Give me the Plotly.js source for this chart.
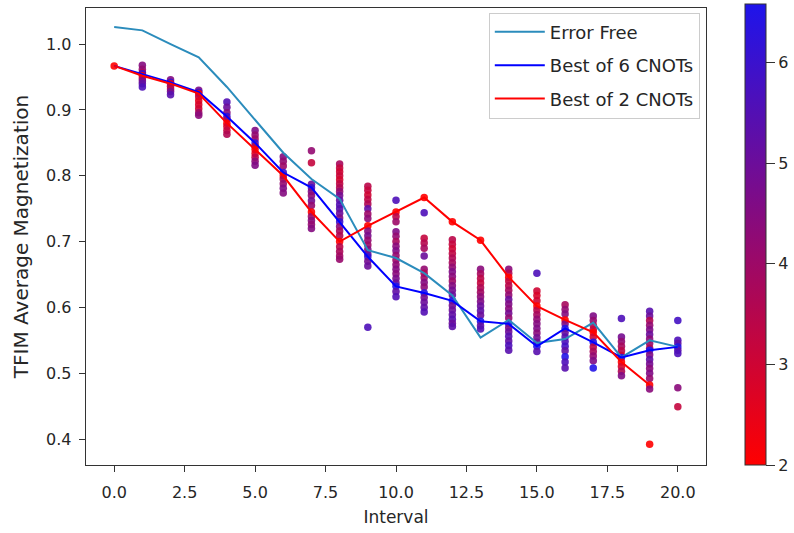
<!DOCTYPE html>
<html><head><meta charset="utf-8">
<script src="https://cdn.plot.ly/plotly-3.0.1.min.js"></script>
<style>html,body{margin:0;padding:0;background:#fff}#chart{width:794px;height:533px}</style>
</head><body><div id="chart"></div>
<script>
// ---- data ----
const intervals = [0,1,2,3,4,5,6,7,8,9,10,11,12,13,14,15,16,17,18,19,20];
const errorFree = [1.026,1.021,1.000,0.980,0.935,0.885,0.835,0.795,0.765,0.687,0.675,0.652,0.618,0.554,0.581,0.546,0.552,0.577,0.524,0.550,0.540];
const best6 = [0.967,0.955,0.942,0.927,0.890,0.850,0.805,0.782,0.730,0.677,0.632,0.622,0.610,0.579,0.575,0.541,0.568,0.547,0.524,0.535,0.540];
const best2Intervals = [0,1,2,3,4,5,6,7,8,9,10,11,12,13,14,15,16,17,18,19];
const best2 = [0.967,0.952,0.940,0.925,0.880,0.840,0.800,0.745,0.700,0.724,0.745,0.767,0.730,0.702,0.646,0.602,0.581,0.562,0.517,0.482];

// individual circuit results per interval (magnetization) and their colour value
const circuitY = [
  [0.967],
  [0.968,0.962,0.957,0.955,0.952,0.948,0.944,0.940,0.935],
  [0.946,0.942,0.940,0.936,0.932,0.928,0.923],
  [0.930,0.927,0.925,0.920,0.914,0.908,0.902,0.896,0.892],
  [0.912,0.904,0.896,0.890,0.886,0.880,0.875,0.869,0.863],
  [0.869,0.862,0.856,0.850,0.845,0.840,0.834,0.828,0.822,0.816],
  [0.829,0.822,0.815,0.805,0.800,0.795,0.788,0.781,0.774],
  [0.838,0.820,0.787,0.782,0.776,0.770,0.762,0.755,0.745,0.738,0.732,0.726,0.720],
  [0.818,0.812,0.806,0.800,0.794,0.788,0.782,0.776,0.770,0.763,0.756,0.750,0.743,0.736,0.730,0.723,0.716,0.709,0.700,0.692,0.685,0.678,0.673],
  [0.784,0.778,0.771,0.764,0.757,0.750,0.742,0.735,0.724,0.716,0.709,0.702,0.695,0.688,0.681,0.677,0.670,0.663,0.570],
  [0.763,0.745,0.738,0.730,0.715,0.708,0.700,0.693,0.686,0.679,0.672,0.665,0.658,0.651,0.644,0.637,0.632,0.624,0.616],
  [0.767,0.744,0.705,0.698,0.690,0.678,0.658,0.652,0.645,0.638,0.631,0.622,0.615,0.608,0.600,0.593],
  [0.730,0.703,0.696,0.689,0.682,0.675,0.668,0.661,0.654,0.647,0.640,0.633,0.626,0.619,0.610,0.603,0.596,0.589,0.582,0.576,0.571],
  [0.702,0.658,0.651,0.644,0.637,0.630,0.623,0.616,0.609,0.602,0.595,0.588,0.579,0.572,0.567],
  [0.658,0.652,0.646,0.640,0.633,0.626,0.619,0.612,0.605,0.598,0.591,0.584,0.575,0.569,0.563,0.556,0.549,0.542,0.535],
  [0.652,0.625,0.618,0.610,0.602,0.596,0.589,0.582,0.575,0.568,0.561,0.554,0.547,0.541,0.533],
  [0.604,0.597,0.590,0.581,0.575,0.568,0.562,0.555,0.548,0.541,0.534,0.525,0.517,0.508],
  [0.587,0.580,0.573,0.566,0.562,0.555,0.547,0.540,0.533,0.526,0.519,0.508],
  [0.583,0.555,0.548,0.541,0.534,0.527,0.524,0.517,0.510,0.503,0.496],
  [0.594,0.587,0.580,0.573,0.566,0.559,0.552,0.545,0.538,0.535,0.528,0.521,0.514,0.507,0.500,0.492,0.482,0.476,0.392],
  [0.580,0.550,0.545,0.540,0.535,0.530,0.478,0.449]
];
const circuitC = [
  [2],
  [4.5,4.2,3.8,6.0,2,3.5,4.8,5.2,5.6],
  [4.5,6.0,2,4.0,3.5,4.8,5.4],
  [4.6,6.0,2,3.2,2.6,2.8,3.0,4.0,4.4],
  [5.5,5.0,4.5,6.0,4.0,2,2.8,3.2,3.6],
  [4.6,4.2,4.0,6.0,3.5,2,2.6,3.4,4.3,4.6],
  [4.5,4.2,4.0,6.0,2,3.8,4.2,4.6,4.5],
  [4.2,3.2,5.0,6.0,4.6,4.3,4.8,4.2,2,4.0,4.4,4.2,4.5],
  [3.8,3.2,3.0,3.1,2.9,3.3,3.6,4.2,4.8,5.2,5.5,5.4,5.0,4.6,6.0,4.3,3.8,3.6,2,3.4,3.7,3.9,4.1],
  [3.4,3.2,3.0,3.3,3.6,5.2,4.0,4.3,2,4.5,4.7,4.2,4.0,4.6,5.0,6.0,4.8,5.0,5.6],
  [5.6,2,3.4,4.0,4.6,4.2,3.8,4.4,4.6,4.2,4.0,4.3,4.5,4.4,4.7,5.0,6.5,5.2,5.5],
  [2,5.6,3.2,3.5,3.8,5.0,4.2,3.6,4.0,4.5,4.3,6.5,4.8,5.0,5.2,5.5],
  [2,3.4,3.2,3.0,3.3,3.6,3.8,4.2,4.6,4.4,4.0,4.5,4.8,5.0,6.5,4.8,5.0,5.2,5.4,5.0,5.3],
  [2,4.4,3.8,3.4,3.2,3.6,3.9,4.3,4.6,5.0,5.2,5.0,6.5,5.2,5.5],
  [4.4,3.6,2,3.2,3.4,3.8,4.2,5.0,4.6,4.4,4.8,4.2,6.5,4.6,5.0,5.4,5.2,5.6,5.4],
  [5.6,3.0,2.8,3.0,2,3.4,3.8,4.2,4.5,4.6,4.4,4.8,5.0,6.5,5.4],
  [3.8,4.2,4.5,2,4.6,6.5,5.0,5.4,5.6,5.8,5.2,6.5,5.6,5.4],
  [4.6,4.2,3.6,3.2,2,3.0,6.5,3.4,3.8,4.2,4.6,6.5],
  [5.6,4.8,4.2,3.8,3.4,3.0,6.5,2,2.8,3.6,4.6],
  [5.4,5.0,3.6,4.2,4.6,5.0,4.4,4.0,3.6,6.5,4.6,5.2,4.8,4.4,4.6,4.2,2,4.4,2],
  [5.8,5.6,5.2,6.5,5.4,5.6,4.4,3.2]
];
const colorTicks = [2,3,4,5,6];
const xTicks = [0,2.5,5,7.5,10,12.5,15,17.5,20];
const yTicks = [0.4,0.5,0.6,0.7,0.8,0.9,1.0];

// ---- build traces ----
const sx = [], sy = [], sc = [];
circuitY.forEach((col, i) => {
  col.forEach((v, j) => { sx.push(intervals[i]); sy.push(v); sc.push(circuitC[i][j]); });
});

const FONT = 'DejaVu Sans, sans-serif';
const txtColor = '#262626';

const traces = [
  {
    x: sx, y: sy, type: 'scatter', mode: 'markers', showlegend: false, hoverinfo: 'skip',
    marker: {
      size: 7.5, color: sc, cmin: 2, cmax: 6.58, opacity: 0.9,
      colorscale: [[0, 'rgb(255,0,0)'], [1, 'rgb(30,20,235)']],
      line: {width: 0},
      colorbar: {
        x: 1.063, xanchor: 'left', xpad: 0, ypad: 0,
        y: 0.504, yanchor: 'middle', len: 461, lenmode: 'pixels',
        thickness: 21, outlinecolor: '#333', outlinewidth: 1,
        tickvals: colorTicks, ticks: 'outside', ticklen: 9, tickcolor: '#333',
        tickfont: {family: FONT, size: 16, color: txtColor}
      }
    }
  },
  {x: intervals, y: errorFree, type: 'scatter', mode: 'lines', name: 'Error Free',
   legendgroup: 'a', line: {color: '#2b8cbc', width: 2}},
  {x: intervals, y: best6, type: 'scatter', mode: 'lines', name: 'Best of 6 CNOTs',
   legendgroup: 'b', line: {color: '#0000ff', width: 2}},
  {x: best2Intervals, y: best2, type: 'scatter', mode: 'lines', name: 'Best of 2 CNOTs',
   legendgroup: 'c', line: {color: '#ff0000', width: 2}}
];

const layout = {
  width: 794, height: 533,
  margin: {l: 86, r: 88, t: 4, b: 68},
  paper_bgcolor: '#fff', plot_bgcolor: '#fff',
  font: {family: FONT, size: 16, color: txtColor},
  showlegend: true,
  legend: {
    x: 0.990, xanchor: 'right', y: 0.99, yanchor: 'top',
    bgcolor: 'rgba(255,255,255,0.8)', bordercolor: '#cccccc', borderwidth: 1,
    font: {family: FONT, size: 18, color: txtColor},
    tracegroupgap: 7, traceorder: 'grouped', itemwidth: 50
  },
  xaxis: {
    range: [-1, 21], tickvals: xTicks, tickformat: '.1f',
    ticks: 'outside', ticklen: 6, tickcolor: '#333', ticklabelstandoff: 6,
    showline: true, linecolor: '#333', linewidth: 1.3, mirror: true,
    showgrid: false, zeroline: false,
    title: {text: 'Interval', font: {family: FONT, size: 17, color: txtColor}, standoff: 10}
  },
  yaxis: {
    range: [0.3605, 1.055], tickvals: yTicks, tickformat: '.1f',
    ticks: 'outside', ticklen: 6, tickcolor: '#333', ticklabelstandoff: 4,
    showline: true, linecolor: '#333', linewidth: 1.3, mirror: true,
    showgrid: false, zeroline: false,
    title: {text: 'TFIM Average Magnetization', font: {family: FONT, size: 20, color: txtColor}, standoff: 12}
  }
};

Plotly.newPlot('chart', traces, layout, {displayModeBar: false, staticPlot: true});
</script>
</body></html>
